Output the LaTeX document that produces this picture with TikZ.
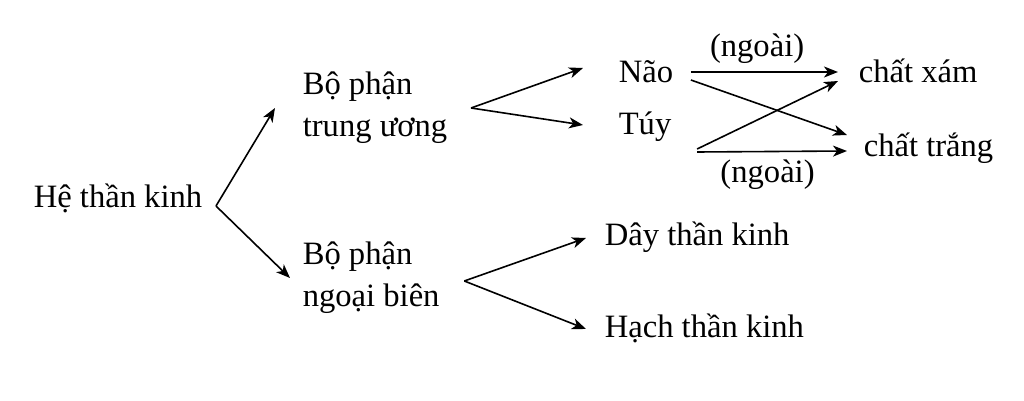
\documentclass[tikz,border=0pt]{standalone}
\usepackage{fontspec}
\setmainfont{Liberation Serif}
\usetikzlibrary{arrows.meta,positioning}

\begin{document}
\begin{tikzpicture}[->,>={Stealth[length=7pt,width=5.5pt,inset=2pt]},
line width=0.8pt,x=0.5pt,y=-0.5pt,font=\fontsize{16.3}{19.5}\selectfont]
   \tikzstyle{term}=[inner sep=0pt,anchor=base west,text height=0.7em,text depth=0.2em]
   \tikzstyle{part}=[inner sep=0pt,anchor=west,align=left]
   \tikzstyle{tag}=[inner sep=4pt]
\useasboundingbox (0,0) rectangle (1024,401);
\node[term] (he)    at (33,208)  {Hệ thần kinh};
\node[part] (tw)    at (302,108) {Bộ phận\\[1.5pt]trung ương};
\node[part] (nb)    at (302,278) {Bộ phận\\[1.5pt]ngoại biên};
\node[term] (nao)   at (618,83)  {Não};
\node[term] (tuy)   at (618,135) {Túy};
\node[term] (day)   at (604,246) {Dây thần kinh};
\node[term] (hach)  at (604,337) {Hạch thần kinh};
\node[term] (xam)   at (858,83)  {chất xám};
\node[term] (trang) at (863,157) {chất trắng};

 \path  ([shift={(13,3)}]he.east) edge ([shift={(-27,0)}]tw.west)
        ([shift={(13,3)}]he.east) edge ([shift={(-12,0)}]nb.west)
        ([shift={(23,0)}]tw.east) edge ([shift={(-35,-10)}]nao.west)
        ([shift={(23,0)}]tw.east) edge ([shift={(-35,-5)}]tuy.west)
        ([shift={(24,3)}]nb.east) edge ([shift={(-18,-3)}]day.west)
        ([shift={(24,3)}]nb.east) edge ([shift={(-18,-3)}]hach.west);
 \path  ([shift={(17,-6)}]nao.east) edge node[tag, above, pos=0.45] {(ngoài)}
([shift={(-20,-6)}]xam.west)
        ([shift={(17,2)}]nao.east) edge ([shift={(-16,-17)}]trang.west)
        ([shift={(25,19)}]tuy.east) edge ([shift={(-20,3)}]xam.west)
        ([shift={(25,22)}]tuy.east) edge node[tag, below, pos=0.47] {(ngoài)}
([shift={(-16,-1)}]trang.west);
\end{tikzpicture}
\end{document}
